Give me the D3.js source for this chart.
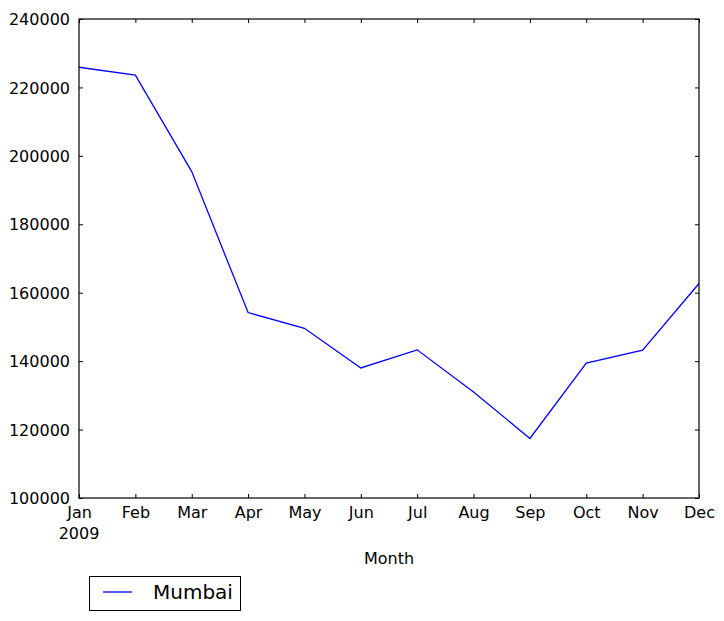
<!DOCTYPE html>
<html><head><meta charset="utf-8">
<script src="https://cdn.jsdelivr.net/npm/d3@7"></script>
<style>body{margin:0;background:#fff}svg{display:block}text{font-family:"DejaVu Sans",sans-serif;fill:#000}</style>
</head><body>
<script>
const months = ["Jan","Feb","Mar","Apr","May","Jun","Jul","Aug","Sep","Oct","Nov","Dec"];
const mumbai = [225900,223600,195400,154200,149600,138000,143300,131000,117400,139400,143200,162700];
const yTicks = [100000,120000,140000,160000,180000,200000,220000,240000];
const seriesName = "Mumbai";
const xLabel = "Month";
const yearLabel = "2009";

const W=724,H=621, L=79,R=699,T=19,B=498;
const svg=d3.select("body").append("svg").attr("width",W).attr("height",H);
const x=d3.scalePoint().domain(months).range([L,R]);
const y=d3.scaleLinear().domain([100000,240000]).range([B,T]);

// line
svg.append("path").datum(mumbai)
  .attr("fill","none").attr("stroke","#0000ff").attr("stroke-width",1.3)
  .attr("d",d3.line().x((d,i)=>x(months[i])).y(d=>y(d)));

// axes (ticks inward)
const gB=svg.append("g").attr("transform",`translate(0,${B})`)
  .call(d3.axisBottom(x).tickSize(-4).tickPadding(9));
const gT=svg.append("g").attr("transform",`translate(0,${T})`)
  .call(d3.axisTop(x).tickSize(-4).tickFormat(""));
const gL=svg.append("g").attr("transform",`translate(${L},0)`)
  .call(d3.axisLeft(y).tickValues(yTicks).tickSize(-4).tickPadding(9).tickFormat(d3.format("d")));
const gR=svg.append("g").attr("transform",`translate(${R},0)`)
  .call(d3.axisRight(y).tickValues(yTicks).tickSize(-4).tickFormat(""));
[gB,gT,gL,gR].forEach(g=>{
  g.select(".domain").remove();
  g.selectAll("line").attr("stroke","#000").attr("stroke-width",1);
  g.selectAll("text").attr("font-size",16).attr("fill","#000").attr("font-family","DejaVu Sans");
});
gB.selectAll("text").attr("dy","0.71em");
gL.selectAll("text").attr("dy","0.35em");
// frame
svg.append("rect").attr("x",L).attr("y",T).attr("width",R-L).attr("height",B-T)
  .attr("fill","none").attr("stroke","#000").attr("stroke-width",1.2);

// year label
svg.append("text").attr("x",x("Jan")).attr("y",539).attr("text-anchor","middle")
  .attr("font-size",16).text(yearLabel);
// x label
svg.append("text").attr("x",(L+R)/2).attr("y",564).attr("text-anchor","middle")
  .attr("font-size",16).text(xLabel);

// legend
const lg=svg.append("g");
lg.append("rect").attr("x",89.5).attr("y",576.5).attr("width",151).attr("height",34)
  .attr("fill","#fff").attr("stroke","#000").attr("stroke-width",1);
lg.append("line").attr("x1",103).attr("x2",132).attr("y1",592).attr("y2",592)
  .attr("stroke","#0000ff").attr("stroke-width",1.3);
lg.append("text").attr("x",153).attr("y",599).attr("font-size",20).text(seriesName);
</script>
</body></html>
